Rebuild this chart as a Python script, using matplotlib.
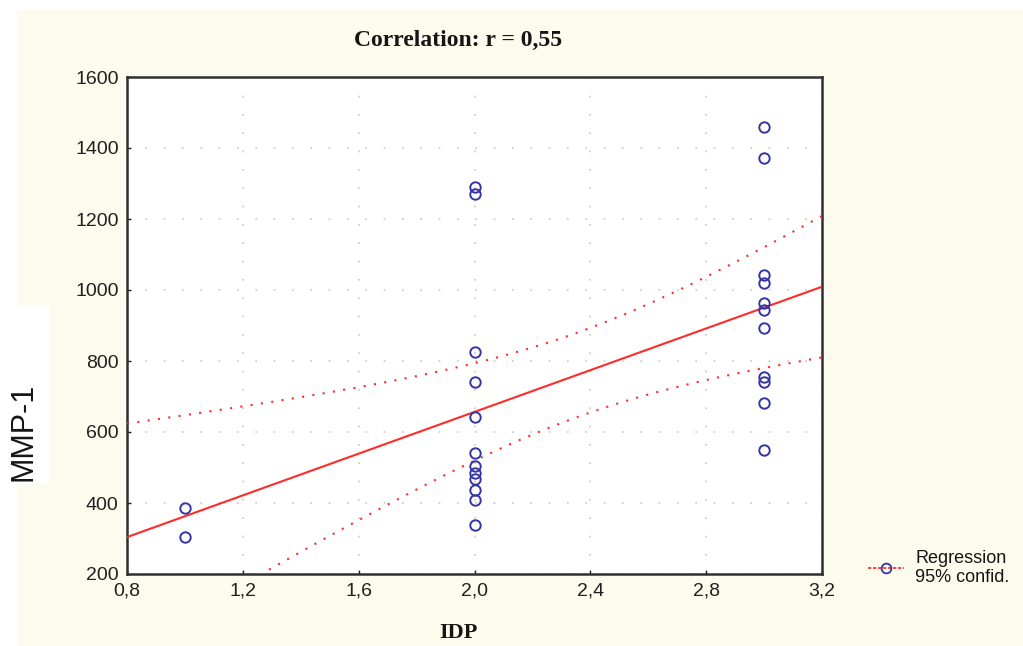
import numpy as np
import matplotlib
matplotlib.use("Agg")
import matplotlib.pyplot as plt
from matplotlib.lines import Line2D
from matplotlib.patches import Rectangle

# ---- data ----
idp_values = [1, 1,
              2, 2, 2, 2, 2, 2, 2, 2, 2, 2, 2, 2,
              3, 3, 3, 3, 3, 3, 3, 3, 3, 3, 3]
mmp1_values = [385, 305,
               1290, 1270, 825, 741, 642, 541, 505, 485, 468, 437, 408, 338,
               1459, 1372, 1042, 1020, 963, 944, 893, 755, 741, 682, 549]
x_ticks = [0.8, 1.2, 1.6, 2.0, 2.4, 2.8, 3.2]
x_tick_labels = ["0,8", "1,2", "1,6", "2,0", "2,4", "2,8", "3,2"]
y_ticks = [200, 400, 600, 800, 1000, 1200, 1400, 1600]
title_text = "Correlation: r = 0,55"
x_label = "IDP"
y_label = "MMP-1"
legend_text = "Regression\n95% confid."

x = np.array(idp_values, dtype=float)
y = np.array(mmp1_values, dtype=float)

# regression + 95% confidence band for the mean
n = len(x)
slope, intercept = np.polyfit(x, y, 1)
resid = y - (intercept + slope * x)
s = np.sqrt(np.sum(resid ** 2) / (n - 2))
xbar = x.mean()
sxx = np.sum((x - xbar) ** 2)
t_val = 2.069
xs = np.linspace(0.8, 3.2, 200)
yhat = intercept + slope * xs
half = t_val * s * np.sqrt(1.0 / n + (xs - xbar) ** 2 / sxx)

W, H = 1023, 646
fig = plt.figure(figsize=(W / 100, H / 100), dpi=100)
fig.patch.set_facecolor("white")
# cream background panel
fig.patches.append(Rectangle((17 / W, 0), 1 - 17 / W, 1 - 10 / H,
                             transform=fig.transFigure, facecolor="#fdfaee",
                             edgecolor="none", zorder=-10))
# white box behind y label
fig.patches.append(Rectangle((0, 1 - 483 / H), 50 / W, (483 - 305) / H,
                             transform=fig.transFigure, facecolor="white",
                             edgecolor="none", zorder=-9))

ax = fig.add_axes([127 / W, 1 - 574 / H, (822 - 127) / W, (574 - 77) / H])
ax.set_facecolor("white")
ax.set_xlim(0.8, 3.2)
ax.set_ylim(200, 1600)
ax.set_xticks(x_ticks)
ax.set_xticklabels(x_tick_labels)
ax.set_yticks(y_ticks)
ax.tick_params(direction="in", length=3, width=1, colors="#202020",
               labelsize=14, pad=6)
for lab in ax.get_xticklabels() + ax.get_yticklabels():
    lab.set_family("Liberation Sans")
for sp in ax.spines.values():
    sp.set_linewidth(1.8)
    sp.set_color("#303030")
ax.grid(True, color="#c8c8c8", linestyle=(0, (1, 10)), linewidth=1.2)
ax.set_axisbelow(True)

ax.plot(xs, yhat, color="#ff2a2a", linewidth=1.5, zorder=3)
ax.plot(xs, yhat + half, color="#ff2a2a", linewidth=1.5,
        linestyle=(0, (1, 4)), zorder=3)
ax.plot(xs, yhat - half, color="#ff2a2a", linewidth=1.5,
        linestyle=(0, (1, 4)), zorder=3)
ax.plot(x, y, linestyle="none", marker="o", markersize=7.5,
        markerfacecolor="none", markeredgecolor="#3535a5",
        markeredgewidth=1.4, zorder=4)

fig.text(458 / W, 1 - 40 / H, title_text, ha="center", va="center",
         fontsize=17, fontweight="bold", family="Liberation Serif",
         color="#151515")
fig.text(458 / W, 1 - 633 / H, x_label, ha="center", va="center",
         fontsize=16, fontweight="bold", family="Liberation Serif",
         color="#151515")
fig.text(24 / W, 1 - 432 / H, y_label, ha="center", va="center",
         rotation=90, fontsize=22, family="Liberation Sans", color="#151515")

# legend
handle = Line2D([], [], color="#ff2a2a", linestyle=(0, (2, 1)), linewidth=1.2,
                marker="o", markersize=7, markerfacecolor="none",
                markeredgecolor="#3535a5", markeredgewidth=1.3)
leg = fig.legend([handle], [legend_text], loc="center left",
                 bbox_to_anchor=(852 / W, 1 - 568 / H), frameon=False,
                 prop={"family": "Liberation Sans", "size": 13},
                 handlelength=2.0, handletextpad=0.6, labelspacing=0.1)
for t in leg.get_texts():
    t.set_multialignment("left")
    t.set_color("#151515")

fig.savefig("out.png", dpi=100, facecolor=fig.get_facecolor())
